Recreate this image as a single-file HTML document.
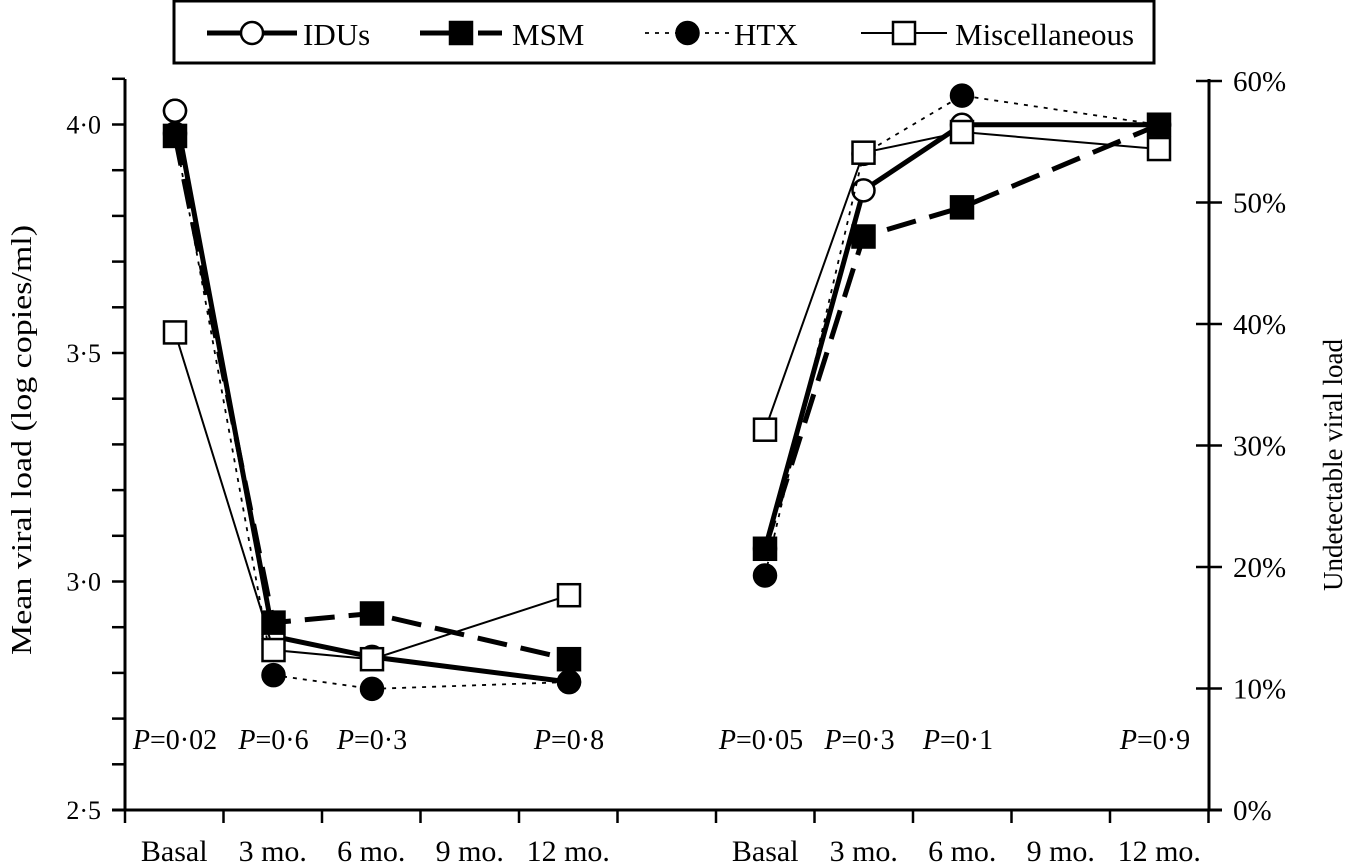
<!DOCTYPE html>
<html><head><meta charset="utf-8"><style>
html,body{margin:0;padding:0;background:#fff;}
svg{display:block;font-family:"Liberation Serif",serif;}
</style></head><body>
<svg id="chart" width="1350" height="865" viewBox="0 0 1350 865" xmlns="http://www.w3.org/2000/svg"></svg>
<script>
const categories = ["Basal","3 mo.","6 mo.","9 mo.","12 mo."];
const pointIdx = [0,1,2,4];
const leftTicks = [2.5,3.0,3.5,4.0];
const leftTickLabels = ["2·5","3·0","3·5","4·0"];
const rightTicks = [0,10,20,30,40,50,60];
const rightTickLabels = ["0%","10%","20%","30%","40%","50%","60%"];
const leftP = ["P=0·02","P=0·6","P=0·3","P=0·8"];
const rightP = ["P=0·05","P=0·3","P=0·1","P=0·9"];
const idusLeft = [4.03,2.88,2.835,2.78];
const msmLeft = [3.975,2.91,2.93,2.83];
const htxLeft = [3.98,2.795,2.765,2.78];
const miscLeft = [3.545,2.85,2.83,2.97];
const idusRight = [21.5,51.0,56.4,56.4];
const msmRight = [21.5,47.2,49.6,56.4];
const htxRight = [19.3,54.0,58.8,56.4];
const miscRight = [31.3,54.1,55.8,54.4];

const NS="http://www.w3.org/2000/svg";
const svg=document.getElementById('chart');
function mk(tag,attrs,parent){const e=document.createElementNS(NS,tag);for(const k in attrs)e.setAttribute(k,attrs[k]);(parent||svg).appendChild(e);return e;}
const STEP=98.5;
const yL=v=>810-(v-2.5)*457;
const yR=v=>810-v*12.15;
const xL=i=>175+i*STEP;
const xR=i=>765+i*STEP;

// axes
let g=mk('g',{});


mk('line',{x1:125,y1:79,x2:125,y2:811,stroke:'#000','stroke-width':3},g);
mk('line',{x1:1209,y1:79,x2:1209,y2:811,stroke:'#000','stroke-width':3},g);
mk('line',{x1:112,y1:810,x2:1222,y2:810,stroke:'#000','stroke-width':3},g);
for(let v=25;v<=41;v++){const y=yL(v/10);mk('line',{x1:112,y1:y,x2:125,y2:y,stroke:'#000','stroke-width':2.5},g);}
leftTicks.forEach((v,i)=>{const t=mk('text',{x:101,y:yL(v)+9,'text-anchor':'end','font-size':26},g);t.textContent=leftTickLabels[i];
});
rightTicks.forEach((v,i)=>{const y=yR(v);mk('line',{x1:1196,y1:y,x2:1222,y2:y,stroke:'#000','stroke-width':2.5},g);
const t=mk('text',{x:1233,y:y+10,'font-size':29},g);t.textContent=rightTickLabels[i];
});
[0,1].forEach(p=>{const x0=p?716:125;
for(let k=0;k<=5;k++){const x=x0+k*STEP;mk('line',{x1:x,y1:810,x2:x,y2:823,stroke:'#000','stroke-width':2.5},g);}
categories.forEach((c,i)=>{const t=mk('text',{x:x0+(i+0.5)*STEP,y:861,'text-anchor':'middle','font-size':30},g);t.textContent=c;
});});
let t=mk('text',{x:0,y:0,'font-size':28,'text-anchor':'middle',textLength:430,lengthAdjust:'spacingAndGlyphs',transform:'translate(31,440) rotate(-90)'});t.textContent='Mean viral load (log copies/ml)';

t=mk('text',{x:0,y:0,'font-size':27,'text-anchor':'middle',transform:'translate(1342,465) rotate(-90)'});t.textContent='Undetectable viral load';


// p-values
function pLabel(x,s){const tt=mk('text',{x:x,y:749,'text-anchor':'middle','font-size':28});
const a=mk('tspan',{'font-style':'italic'},tt);a.textContent='P';const b=mk('tspan',{},tt);b.textContent=s.slice(1);
}
leftP.forEach((s,i)=>pLabel(xL(pointIdx[i]),s));
rightP.forEach((s,i)=>pLabel(xR(pointIdx[i])-4,s));

const styles={
 idus:{w:5,dash:null,m:'circle',fill:'#fff'},
 msm:{w:5,dash:'30 14',m:'square',fill:'#000'},
 htx:{w:1.8,dash:'4 6',m:'circle',fill:'#000'},
 misc:{w:2,dash:null,m:'square',fill:'#fff'}};
function marker(kind,x,y,parent){const s=styles[kind];
 if(s.m=='circle')return mk('circle',{cx:x,cy:y,r:11,fill:s.fill,stroke:'#000','stroke-width':2.5},parent);
 return mk('rect',{x:x-11,y:y-11,width:22,height:22,fill:s.fill,stroke:'#000','stroke-width':2.5},parent);}
function series(kind,vals,xf,yf){const s=styles[kind];const gg=mk('g',{});
 
 const pts=vals.map((v,i)=>xf(pointIdx[i])+','+yf(v)).join(' ');
 const a={points:pts,fill:'none',stroke:'#000','stroke-width':s.w};if(s.dash)a['stroke-dasharray']=s.dash;
 mk('polyline',a,gg);return gg;}
function markers(kind,vals,xf,yf,gg){vals.forEach((v,i)=>{const m=marker(kind,xf(pointIdx[i]),yf(v),gg);
 });}
const order=[['idus',idusLeft,idusRight],['htx',htxLeft,htxRight],['misc',miscLeft,miscRight],['msm',msmLeft,msmRight]];
const gs=order.map(o=>[series(o[0],o[1],xL,yL),series(o[0],o[2],xR,yR)]);
order.forEach((o,k)=>{markers(o[0],o[1],xL,yL,gs[k][0]);markers(o[0],o[2],xR,yR,gs[k][1]);});
// IDUs basal-left circle sits above the MSM square
marker('idus',xL(0),yL(idusLeft[0]),svg);

// legend
const lg=mk('g',{});


mk('rect',{x:174,y:1,width:980,height:62,fill:'#fff',stroke:'#000','stroke-width':3},lg);
const leg=[['idus','IDUs',207,297,303],['msm','MSM',420,502,512],['htx','HTX',645,730,734],['misc','Miscellaneous',861,947,955]];
leg.forEach(l=>{const s=styles[l[0]];const e=mk('g',{},lg);
 
 const a={x1:l[2],y1:33,x2:l[3],y2:33,stroke:'#000','stroke-width':s.w};if(s.dash)a['stroke-dasharray']=l[0]=='msm'?'44 14':'4 6';
 mk('line',a,e);marker(l[0],(l[2]+l[3])/2,33,e);
 const tt=mk('text',{x:l[4],y:45,'font-size':31},e);tt.textContent=l[1];});
</script>
</body></html>
